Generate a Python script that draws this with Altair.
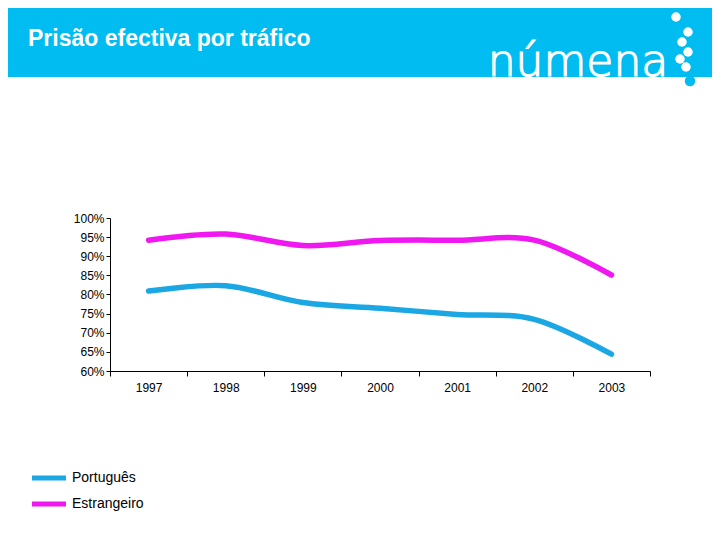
import altair as alt
import pandas as pd

years = ["1997", "1998", "1999", "2000", "2001", "2002", "2003"]
portugues = [0.809, 0.823, 0.779, 0.764, 0.748, 0.735, 0.644]
estrangeiro = [0.942, 0.958, 0.928, 0.941, 0.942, 0.942, 0.851]
series_names = ["Português", "Estrangeiro"]
series_colors = ["#1AA7E4", "#F018F0"]
y_ticks = [0.60, 0.65, 0.70, 0.75, 0.80, 0.85, 0.90, 0.95, 1.00]
title_text = "Prisão efectiva por tráfico"
logo_text = "númena"

rows = []
for y, p, e in zip(years, portugues, estrangeiro):
    rows.append({"year": y, "series": series_names[0], "value": p})
    rows.append({"year": y, "series": series_names[1], "value": e})
df = pd.DataFrame(rows)
one = pd.DataFrame({"a": [0]})

BANNER = "#00BCF0"

lines = alt.Chart(df).mark_line(
    interpolate="cardinal", strokeWidth=5.5, strokeCap="round", strokeJoin="round"
).encode(
    x=alt.X("year:O", bandPosition=0.5,
            scale=alt.Scale(type="band", domain=years, paddingInner=0, paddingOuter=0),
            axis=alt.Axis(title=None, labelAngle=0, tickBand="extent", tickSize=5,
                          labelPadding=6, labelFontSize=12, labelFont="Arial",
                          labelColor="black", domainColor="black", tickColor="black",
                          grid=False)),
    y=alt.Y("value:Q",
            scale=alt.Scale(domain=[0.6, 1.0], nice=False, zero=False),
            axis=alt.Axis(title=None, values=y_ticks, format=".0%", tickSize=4,
                          labelPadding=2, labelFontSize=12, labelFont="Arial",
                          labelColor="black", domainColor="black", tickColor="black",
                          grid=False)),
    color=alt.Color("series:N",
                    scale=alt.Scale(domain=series_names, range=series_colors),
                    sort=series_names,
                    legend=alt.Legend(title=None, orient="none", legendX=-72, legendY=249,
                                      symbolType="M-2,0H2", symbolSize=289,
                                      symbolStrokeWidth=5, rowPadding=5,
                                      labelFontSize=14, labelFont="Arial",
                                      labelColor="black", labelOffset=12)),
)

banner = alt.Chart(one).mark_rect(color=BANNER).encode(
    x=alt.value(-102), x2=alt.value(610), y=alt.value(-210), y2=alt.value(-141)
)

title = alt.Chart(one).mark_text(
    text=title_text, color="white", fontSize=23, fontWeight="bold", font="Arial",
    align="left", baseline="middle"
).encode(x=alt.value(-82), y=alt.value(-179))

logo = alt.Chart(one).mark_text(
    text=logo_text, color="white", fontSize=44, fontWeight=200, font="DejaVu Sans",
    stroke="white", strokeWidth=1.2, align="center", baseline="alphabetic"
).encode(x=alt.value(468), y=alt.value(-142))

dots_df = pd.DataFrame({
    "dx": [566, 578, 572, 578, 570, 576],
    "dy": [-201, -186, -176, -166, -159, -151],
})
dots = alt.Chart(dots_df).mark_circle(color="white", opacity=1, size=90).encode(
    x=alt.X("dx:Q", scale=None), y=alt.Y("dy:Q", scale=None)
)
dot2 = alt.Chart(one).mark_circle(color=BANNER, opacity=1, size=110).encode(
    x=alt.value(580), y=alt.value(-137)
)

chart = alt.layer(banner, title, logo, dots, dot2, lines).resolve_scale(
    x="independent", y="independent"
).properties(
    width=540, height=153,
    autosize=alt.AutoSizeParams(type="none"),
    padding={"left": 102, "top": 210, "right": 62, "bottom": 161},
).configure_view(stroke=None)

chart.save("out.html", embed_options={"renderer": "svg", "actions": False})
